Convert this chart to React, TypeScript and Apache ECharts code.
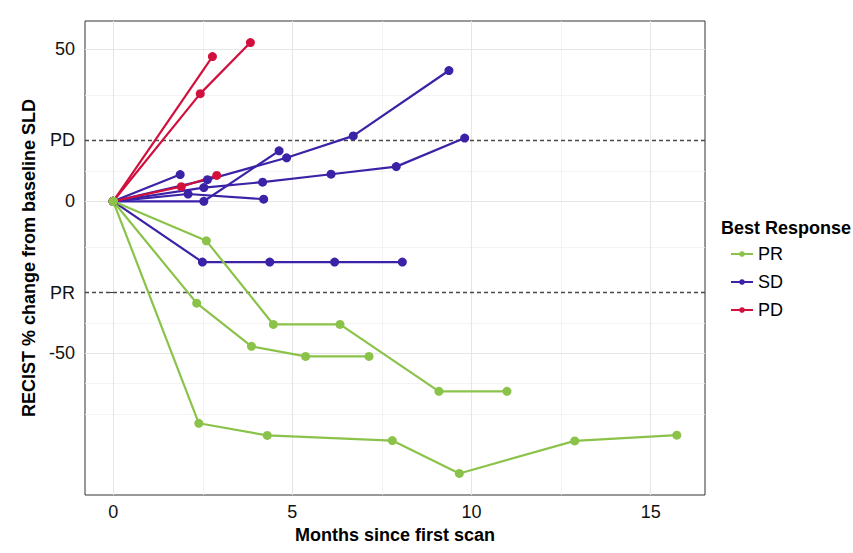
import { useEffect, useRef } from 'react';
import * as echarts from 'echarts';

// best response groups, in legend order
const groups = ['PR', 'SD', 'PD'];
const groupColors: Record<string, string> = {
  PR: '#8BC34A',
  SD: '#3B22A6',
  PD: '#D2103E'
};

// [months since first scan, % change from baseline]
const pr1 = [[0, 0], [2.6, -13], [4.47, -40.5], [6.33, -40.5], [9.09, -62.5], [10.99, -62.5]];
const pr2 = [[0, 0], [2.33, -33.5], [3.86, -47.7], [5.37, -51], [7.14, -51]];
const pr3 = [[0, 0], [2.39, -73], [4.3, -77], [7.79, -78.7], [9.66, -89.5], [12.88, -78.8], [15.73, -76.9]];

const sd1 = [[0, 0], [1.87, 8.8]];
const sd2 = [[0, 0], [2.63, 7.1], [4.84, 14.3], [6.7, 21.5], [9.37, 43]];
const sd3 = [[0, 0], [2.53, 4.5], [4.17, 6.3], [6.08, 8.9], [7.9, 11.4], [9.81, 20.8]];
const sd4 = [[0, 0], [2.09, 2.4], [4.2, 0.7]];
const sd5 = [[0, 0], [2.53, 0], [4.63, 16.6]];
const sd6 = [[0, 0], [2.49, -20], [4.37, -20], [6.18, -20], [8.07, -20]];

const pd1 = [[0, 0], [2.77, 47.6]];
const pd2 = [[0, 0], [2.43, 35.4], [3.83, 52.2]];
const pd3 = [[0, 0], [1.9, 4.8], [2.89, 8.5]];

// drawing order (last on top)
const patients: [string, number[][]][] = [
  ['SD', sd1], ['SD', sd2], ['SD', sd3], ['SD', sd4], ['SD', sd5], ['SD', sd6],
  ['PD', pd1], ['PD', pd2], ['PD', pd3],
  ['PR', pr1], ['PR', pr2], ['PR', pr3]
];

// axis breaks
const xBreaks = [0, 5, 10, 15];
const xMinor = [2.5, 7.5, 12.5];
const yBreaks = [50, 20, 0, -30, -50];
const yMinor = [35, 10, -15, -40, -60, -70];
const pdLine = 20;
const prLine = -30;

const FONT = '"Liberation Sans", Arial, sans-serif';

// ggplot style 5% expansion
const expand = (vals: number[]) => {
  const lo = Math.min(...vals);
  const hi = Math.max(...vals);
  const pad = (hi - lo) * 0.05;
  return [lo - pad, hi + pad];
};

const App = () => {
  const chartRef = useRef<HTMLDivElement>(null);

  useEffect(() => {
    if (!chartRef.current) return;
    const chart = echarts.init(chartRef.current, undefined, { renderer: 'svg' });

    const allX = patients.flatMap(p => p[1].map(d => d[0]));
    const allY = patients.flatMap(p => p[1].map(d => d[1]));
    const [xMin, xMax] = expand(allX);
    const [yMin, yMax] = expand(allY);

    const major = { color: '#e6e6e6', width: 1.1, type: 'solid' as const };
    const minor = { color: '#f0f0f0', width: 0.8, type: 'solid' as const };
    const dashed = { color: '#4a4a4a', width: 1.3, type: [4, 3] as number[] };

    const gridLines = [
      ...xMinor.map(v => ({ xAxis: v, lineStyle: minor })),
      ...yMinor.map(v => ({ yAxis: v, lineStyle: minor })),
      ...xBreaks.map(v => ({ xAxis: v, lineStyle: major })),
      ...yBreaks.filter(v => v !== pdLine && v !== prLine).map(v => ({ yAxis: v, lineStyle: major })),
      { yAxis: pdLine, lineStyle: dashed },
      { yAxis: prLine, lineStyle: dashed }
    ];

    const option: any = {
      animation: false,
      textStyle: { fontFamily: FONT },
      title: {
        text: 'Best Response',
        left: 716,
        top: 214,
        textStyle: { fontSize: 18, fontWeight: 'bold', color: '#000', fontFamily: FONT }
      },
      legend: {
        data: groups,
        orient: 'vertical',
        left: 725,
        top: 240,
        itemWidth: 22,
        itemHeight: 7,
        itemGap: 10,
        textStyle: { fontSize: 18, color: '#000', fontFamily: FONT }
      },
      grid: {
        left: 85,
        top: 21,
        right: 148,
        bottom: 58,
        show: true,
        borderColor: '#333',
        borderWidth: 1,
        backgroundColor: '#fff'
      },
      xAxis: {
        type: 'value',
        min: xMin,
        max: xMax,
        name: 'Months since first scan',
        nameLocation: 'middle',
        nameGap: 28,
        nameTextStyle: { fontSize: 18, fontWeight: 'bold', color: '#000', fontFamily: FONT },
        axisLine: { show: false },
        splitLine: { show: false },
        axisTick: { show: true, customValues: xBreaks, length: 4, lineStyle: { color: '#333' } },
        axisLabel: {
          customValues: xBreaks,
          fontSize: 18,
          color: '#111',
          margin: 8,
          fontFamily: FONT
        }
      },
      yAxis: {
        type: 'value',
        min: yMin,
        max: yMax,
        name: 'RECIST % change from baseline SLD',
        nameLocation: 'middle',
        nameGap: 47,
        nameTextStyle: { fontSize: 18, fontWeight: 'bold', color: '#000', fontFamily: FONT },
        axisLine: { show: false },
        splitLine: { show: false },
        axisTick: { show: true, customValues: yBreaks, length: 4, lineStyle: { color: '#333' } },
        axisLabel: {
          customValues: yBreaks,
          fontSize: 18,
          color: '#111',
          margin: 10,
          fontFamily: FONT,
          formatter: (v: number) => (v === pdLine ? 'PD' : v === prLine ? 'PR' : String(v))
        }
      },
      series: [
        {
          name: 'grid',
          type: 'line',
          data: [],
          z: 1,
          silent: true,
          markLine: {
            z: 1,
            silent: true,
            symbol: ['none', 'none'],
            label: { show: false },
            animation: false,
            data: gridLines
          }
        },
        ...patients.map(([grp, pts]) => ({
          name: grp,
          type: 'line',
          data: pts,
          z: 3,
          symbol: 'circle',
          symbolSize: 9,
          showSymbol: true,
          showAllSymbol: true,
          color: groupColors[grp],
          lineStyle: { width: 2.2, color: groupColors[grp] },
          itemStyle: { color: groupColors[grp], borderWidth: 0, opacity: 1 },
          emphasis: { disabled: true }
        }))
      ]
    };

    chart.setOption(option);

    return () => {
      chart.dispose();
    };
  }, []);

  return (
    <div
      ref={chartRef}
      style={{ position: 'fixed', left: 0, top: 0, width: '853px', height: '553px', background: '#fff' }}
    />
  );
};

export default App;
